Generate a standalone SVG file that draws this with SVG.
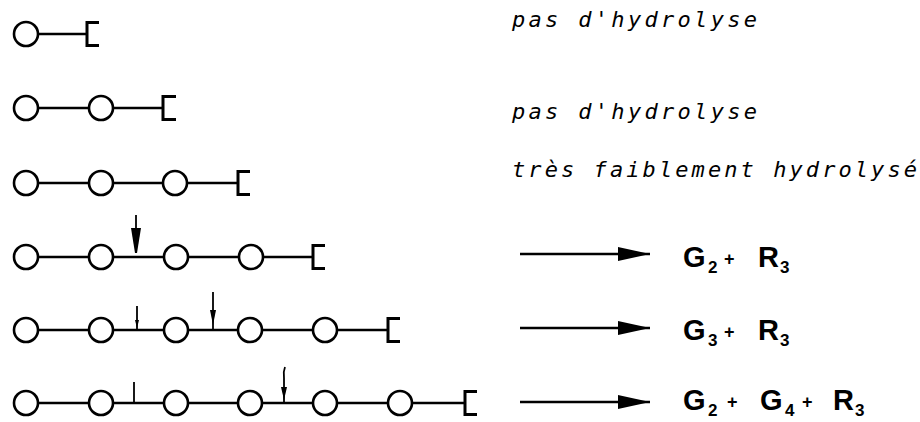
<svg xmlns="http://www.w3.org/2000/svg" width="920" height="422" viewBox="0 0 920 422">
<style>
.bond{stroke:#000;stroke-width:2.4;fill:none}
.res{fill:#fff;stroke:#000;stroke-width:2.6}
.end{stroke:#000;stroke-width:3;fill:none}
.cut{stroke:#000;stroke-width:1.8;fill:none}
.lbl{font-family:"DejaVu Sans Mono","Liberation Mono",monospace;font-style:italic;font-size:22px;fill:#000}
.prod{font-family:"Liberation Sans",Arial,sans-serif;font-weight:bold;font-size:29px;fill:#000}
.sub{font-size:17px}
.plus{font-size:18px}
.arr{stroke:#000;stroke-width:2.6;fill:none}
</style>
<defs>
<marker id="ah" viewBox="0 0 32 14" refX="32" refY="7" markerWidth="32" markerHeight="14" markerUnits="userSpaceOnUse" orient="auto">
<path d="M0 0 L32 7 L0 14 Z" fill="#000"/>
</marker>
</defs>
<g id="connectors">
<line class="bond" x1="26" y1="34" x2="87" y2="34"/>
<line class="bond" x1="26" y1="108" x2="163" y2="108"/>
<line class="bond" x1="26" y1="183" x2="238" y2="183"/>
<line class="bond" x1="26" y1="257" x2="313" y2="257"/>
<line class="bond" x1="26" y1="330" x2="388" y2="330"/>
<line class="bond" x1="26" y1="403" x2="465" y2="403"/>
<line class="arr" x1="520" y1="254" x2="650" y2="254" marker-end="url(#ah)"/>
<line class="arr" x1="520" y1="328" x2="650" y2="328" marker-end="url(#ah)"/>
<line class="arr" x1="520" y1="402" x2="650" y2="402" marker-end="url(#ah)"/>
<g id="cuts">
<line class="cut" x1="136" y1="215" x2="136" y2="230" stroke-width="3"/>
<path d="M131 228 L141 228 L137 253 L135 253 Z" fill="#000"/>
<line class="cut" x1="137" y1="306" x2="137" y2="330"/>
<path d="M135 320 L139 320 L137 328 Z" fill="#000"/>
<line class="cut" x1="213" y1="292" x2="213" y2="330" stroke-width="2.2"/>
<path d="M210 310 L216 310 L213 325 Z" fill="#000"/>
<line class="cut" x1="134" y1="382" x2="134" y2="403"/>
<path d="M285 367 Q283 372 284 378 L284 403" class="cut" stroke-width="2"/>
<path d="M281 387 L287 387 L284 400 Z" fill="#000"/>
</g>
</g>
<g id="row1">
<circle class="res" cx="26" cy="34" r="12"/>
<path class="end" d="M99 22.5 H87 V45.5 H99"/>
</g>
<g id="row2">
<circle class="res" cx="26" cy="108" r="12"/>
<circle class="res" cx="101" cy="108" r="12"/>
<path class="end" d="M176 96.5 H163 V119.5 H176"/>
</g>
<g id="row3">
<circle class="res" cx="26" cy="183" r="12"/>
<circle class="res" cx="101" cy="183" r="12"/>
<circle class="res" cx="175" cy="183" r="12"/>
<path class="end" d="M250 171.5 H238 V194.5 H250"/>
</g>
<g id="row4">
<circle class="res" cx="26" cy="257" r="12"/>
<circle class="res" cx="101" cy="257" r="12"/>
<circle class="res" cx="176" cy="257" r="12"/>
<circle class="res" cx="251" cy="257" r="12"/>
<path class="end" d="M325 245.5 H313 V268.5 H325"/>
</g>
<g id="row5">
<circle class="res" cx="26" cy="330" r="12"/>
<circle class="res" cx="101" cy="330" r="12"/>
<circle class="res" cx="176" cy="330" r="12"/>
<circle class="res" cx="250" cy="330" r="12"/>
<circle class="res" cx="325" cy="330" r="12"/>
<path class="end" d="M400 318.5 H388 V341.5 H400"/>
</g>
<g id="row6">
<circle class="res" cx="26" cy="403" r="12"/>
<circle class="res" cx="101" cy="403" r="12"/>
<circle class="res" cx="176" cy="403" r="12"/>
<circle class="res" cx="250" cy="403" r="12"/>
<circle class="res" cx="325" cy="403" r="12"/>
<circle class="res" cx="400" cy="403" r="12"/>
<path class="end" d="M477 391.5 H465 V414.5 H477"/>
</g>
<g id="label1"><text class="lbl" x="512" y="27" textLength="245" lengthAdjust="spacing">pas d'hydrolyse</text></g>
<g id="label2"><text class="lbl" x="512" y="119" textLength="245" lengthAdjust="spacing">pas d'hydrolyse</text></g>
<g id="label3"><text class="lbl" x="512" y="177" textLength="405" lengthAdjust="spacing">très faiblement hydrolysé</text></g>
<g id="prod4"><text class="prod"><tspan x="683" y="267">G</tspan><tspan class="sub" x="708" y="273">2</tspan><tspan class="plus" x="724" y="265">+</tspan><tspan x="758" y="267">R</tspan><tspan class="sub" x="780" y="273">3</tspan></text></g>
<g id="prod5"><text class="prod"><tspan x="683" y="340">G</tspan><tspan class="sub" x="708" y="346">3</tspan><tspan class="plus" x="724" y="338">+</tspan><tspan x="758" y="340">R</tspan><tspan class="sub" x="780" y="346">3</tspan></text></g>
<g id="prod6"><text class="prod"><tspan x="683" y="410">G</tspan><tspan class="sub" x="708" y="416">2</tspan><tspan class="plus" x="727" y="408">+</tspan><tspan x="760" y="410">G</tspan><tspan class="sub" x="785" y="416">4</tspan><tspan class="plus" x="802" y="408">+</tspan><tspan x="833" y="410">R</tspan><tspan class="sub" x="855" y="416">3</tspan></text></g>
</svg>
